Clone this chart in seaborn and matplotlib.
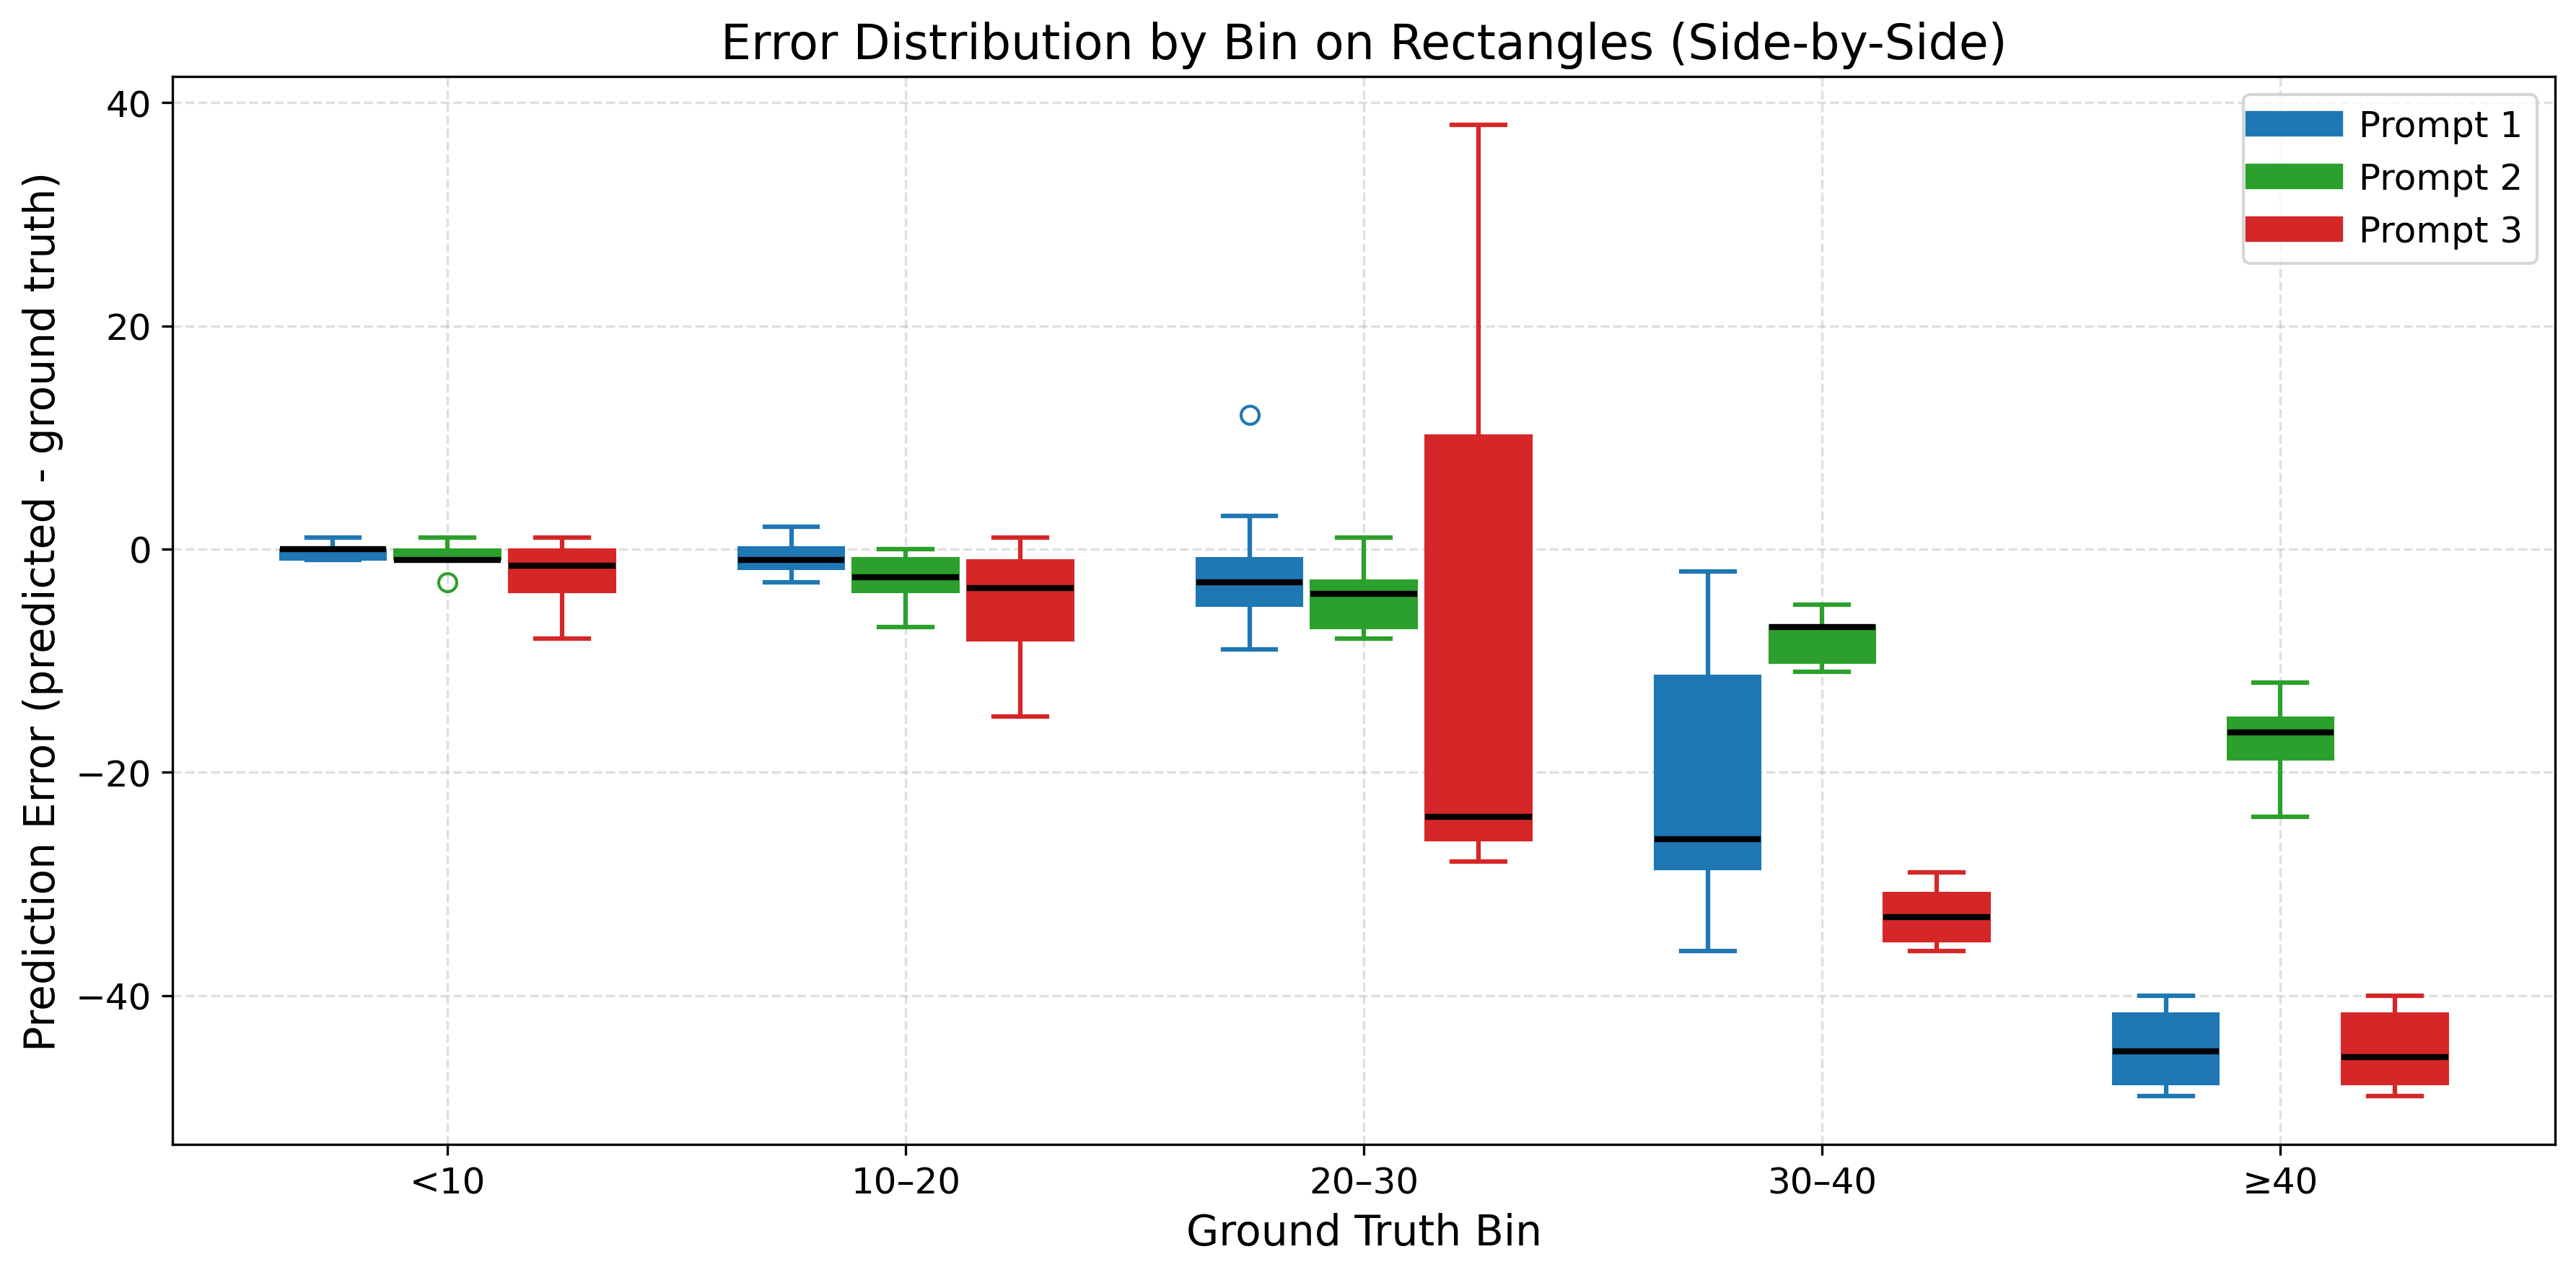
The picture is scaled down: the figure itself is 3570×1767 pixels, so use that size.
import numpy as np
import pandas as pd
import seaborn as sns
from matplotlib import pyplot as plt
from matplotlib.lines import Line2D

# Bins on the x axis and the three prompts (hue)
bins = ["<10", "10–20", "20–30", "30–40", "≥40"]
prompts = ["Prompt 1", "Prompt 2", "Prompt 3"]
colors = ["#1f77b4", "#2ca02c", "#d62728"]

# Error samples per bin (whisker, quartiles, median, outliers)
prompt1_errors = [
    [-1, -1, 0, 0, 1],
    [-3, -1.8, -1, 0.2, 2],
    [-9, -7, -5.1, -4, -3, -2, -0.8, 3, 12],
    [-36, -28.7, -26, -11.3, -2],
    [-49, -48, -45, -41.6, -40],
]
prompt2_errors = [
    [-3, -1, -1, -1, -1, 0, 0, 0, 1],
    [-7, -3.9, -2.5, -0.75, 0],
    [-8, -7.1, -4, -2.8, 1],
    [-11, -10.2, -7, -6.8, -5],
    [-24, -18.9, -16.4, -15.1, -12],
]
prompt3_errors = [
    [-8, -3.9, -1.5, 0, 1],
    [-15, -8.2, -3.5, -1, 1],
    [-28, -26.1, -24, 10.2, 38],
    [-36, -35.2, -33, -30.8, -29],
    [-49, -48, -45.5, -41.6, -40],
]

rows = []
for prompt, errors in zip(prompts, [prompt1_errors, prompt2_errors, prompt3_errors]):
    for b, vals in zip(bins, errors):
        for v in vals:
            rows.append({"bin": b, "prompt": prompt, "error": v})
df = pd.DataFrame(rows)

fig, ax = plt.subplots(figsize=(11.9, 5.8933), dpi=300)
fig.subplots_adjust(left=0.067, right=0.992, top=0.9395, bottom=0.1024)

sns.boxplot(
    data=df, x="bin", y="error", hue="prompt",
    order=bins, hue_order=prompts, palette=colors,
    width=0.75, gap=0.07, whis=1.5, linewidth=1.5,
    flierprops={"marker": "o", "markerfacecolor": "none", "markersize": 6},
    medianprops={"color": "black", "linewidth": 2},
    legend=False, ax=ax,
)

# colour whiskers, caps and fliers by prompt, keep medians black
for cont, c in zip(ax.containers, colors):
    for box in cont.boxes:
        box.set_facecolor(c)
        box.set_edgecolor(c)
        box.set_linewidth(0.5)
    for ln in list(cont.whiskers) + list(cont.caps):
        ln.set_color(c)
        ln.set_linewidth(1.5)
    for fl in cont.fliers:
        fl.set_markeredgecolor(c)
        fl.set_markerfacecolor("none")
    for md in cont.medians:
        md.set_color("black")
        md.set_linewidth(2)

ax.set_xlim(-0.6, 4.6)
ax.set_yticks([-40, -20, 0, 20, 40])
ax.grid(True, linestyle="--", alpha=0.4)
ax.set_axisbelow(True)
ax.tick_params(labelsize=12)
ax.set_xlabel("Ground Truth Bin", fontsize=14)
ax.set_ylabel("Prediction Error (predicted - ground truth)", fontsize=14)
ax.set_title("Error Distribution by Bin on Rectangles (Side-by-Side)", fontsize=16)

handles = [Line2D([0], [0], color=c, lw=8.5, label=p) for c, p in zip(colors, prompts)]
ax.legend(handles=handles, loc="upper right", fontsize=12)

plt.savefig("out.png", dpi=300)
